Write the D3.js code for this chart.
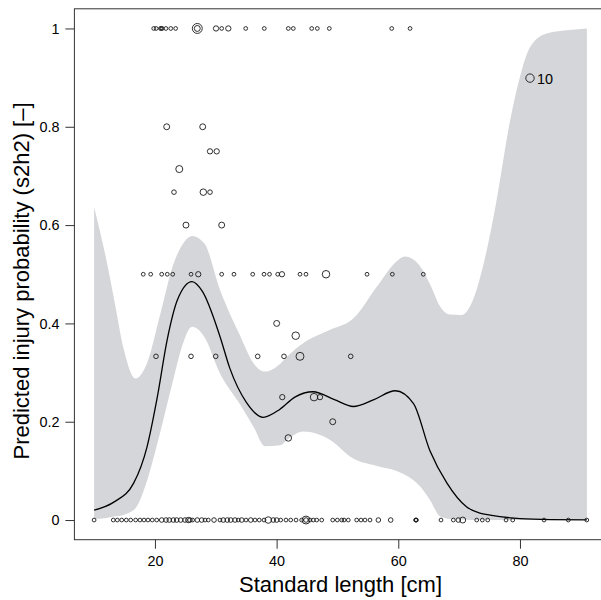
<!DOCTYPE html>
<html>
<head>
<meta charset="utf-8">
<script src="https://cdn.jsdelivr.net/npm/d3@7"></script>
<style>
  body { margin: 0; background: #fff; }
  text { font-family: "Liberation Sans", Arial, Helvetica, sans-serif; }
</style>
</head>
<body>
<script>
// 基本设置
const width = 601;
const height = 600;
const plotLeft = 74.4;
const plotRight = 606.6;
const plotTop = 8.8;
const plotBottom = 539.7;

// ---- data ----
const xTicks = [20, 40, 60, 80];
const yTicks = [0, 0.2, 0.4, 0.6, 0.8, 1];
const yTickLabels = ['0', '0.2', '0.4', '0.6', '0.8', '1'];

// fitted curve
const fitLen = [10, 13.3, 16.5, 18.7, 20.4, 22, 23.7, 26.1, 27.8, 30.7, 32.3, 35, 37.8, 40.5, 43, 46, 49.5, 52.6, 56, 59.5, 62.5, 65.2, 68, 71.2, 73.4, 75.1, 80, 85, 91];
const fitProb = [0.020, 0.037, 0.075, 0.149, 0.251, 0.366, 0.448, 0.485, 0.465, 0.373, 0.309, 0.240, 0.209, 0.225, 0.250, 0.261, 0.245, 0.231, 0.245, 0.263, 0.237, 0.141, 0.075, 0.027, 0.014, 0.010, 0.003, 0.001, 0.0005];

// confidence band
const bandLen = [10, 12, 13.3, 14.9, 16.8, 18.7, 20.9, 23.1, 24.5, 26.1, 28.1, 30.7, 34, 36.2, 38.1, 40.6, 41.7, 44.4, 48.8, 52.6, 56.5, 59.7, 61.1, 63.6, 65.2, 66.9, 68.5, 70.4, 72, 74, 76, 78.4, 80, 81.7, 84.4, 88.2, 91];
const bandHi = [0.637, 0.53, 0.448, 0.346, 0.288, 0.319, 0.42, 0.523, 0.56, 0.578, 0.563, 0.468, 0.375, 0.319, 0.302, 0.318, 0.332, 0.36, 0.387, 0.41, 0.475, 0.526, 0.536, 0.516, 0.48, 0.434, 0.418, 0.417, 0.44, 0.52, 0.64, 0.814, 0.902, 0.963, 0.99, 0.997, 1.0];
const bandLo = [0.002, 0.004, 0.007, 0.011, 0.024, 0.08, 0.18, 0.29, 0.355, 0.393, 0.373, 0.298, 0.235, 0.19, 0.15, 0.152, 0.163, 0.18, 0.163, 0.125, 0.11, 0.1, 0.092, 0.068, 0.041, 0.007, 0.002, 0.001, 0, 0, 0, 0, 0, 0, 0, 0, 0];

// observations, injury = 0
const lenAt0 = [10.0, 13.15, 13.81, 14.53, 15.29, 16.01, 16.83, 17.54, 18.2, 18.86,
  19.56, 20.29, 21.11, 21.82, 22.36, 23.02, 23.57, 24.23, 24.94, 25.48,
  25.76, 26.2, 26.96, 27.68, 28.23, 28.77, 29.71, 30.69, 31.23, 31.89,
  32.45, 33.16, 33.7, 34.26, 34.97, 35.74, 36.45, 37.15, 37.93, 38.63,
  39.45, 40.01, 40.67, 41.54, 42.31, 43.19, 44.12, 44.83, 44.83, 45.49,
  46.03, 46.59, 47.41, 49.22, 49.98, 50.7, 51.08, 51.78, 53.16, 53.87,
  54.53, 55.35, 56.72, 58.75, 62.85, 62.91, 62.97, 67.02, 69.05, 69.87,
  70.59, 72.89, 73.81, 74.7, 77.71, 78.81, 83.96, 87.95, 90.98];
const nAt0 = [2, 2, 2, 2, 2, 2, 2, 2, 2, 2,
  2, 2, 3, 3, 3, 3, 3, 3, 3, 4,
  3, 2, 3, 3, 2, 2, 3, 2, 3, 3,
  3, 3, 2, 3, 2, 3, 2, 2, 2, 6,
  3, 3, 2, 2, 2, 2, 2, 9, 3, 2,
  2, 2, 2, 2, 2, 2, 2, 2, 2, 2,
  2, 2, 3, 3, 2, 2, 2, 2, 2, 3,
  5, 2, 2, 2, 2, 2, 2, 2, 2];

// observations, injury = 1
const lenAt1 = [19.8, 20.2, 20.9, 21.05, 21.2, 21.8, 22.6, 23.4, 26.96, 26.96, 30.04, 30.97, 32.06, 34.92, 37.97, 41.92, 42.74, 45.77, 46.69, 48.66, 58.92, 61.93];
const nAt1 = [2, 2, 2, 2, 2, 2, 2, 2, 14, 5, 4, 2, 4, 2, 2, 2, 2, 2, 2, 2, 2, 2];

// observations with partial injury proportion
const midLen = [21.93, 27.85, 29.05, 30.15, 24.0, 23.13, 27.95, 29.05, 25.1, 30.97,
  18.08, 19.3, 21.11, 22.03, 22.92, 25.93, 27.12, 30.97, 32.99, 36.07,
  37.93, 38.83, 40.18, 40.88, 43.84, 44.83, 48.12, 54.86, 59.02, 64.11,
  40.01, 43.14, 20.17, 25.93, 29.99, 36.89, 41.21, 43.84, 52.18,
  40.93, 46.15, 47.13, 49.22, 41.92];
const midProb = [0.8, 0.8, 0.75, 0.75, 0.714, 0.667, 0.667, 0.667, 0.6, 0.6,
  0.5, 0.5, 0.5, 0.5, 0.5, 0.5, 0.5, 0.5, 0.5, 0.5,
  0.5, 0.5, 0.5, 0.5, 0.5, 0.5, 0.5, 0.5, 0.5, 0.5,
  0.4, 0.375, 0.333, 0.333, 0.333, 0.333, 0.333, 0.333, 0.333,
  0.25, 0.25, 0.25, 0.2, 0.167];
const midN = [5, 5, 4, 4, 7, 3, 6, 3, 5, 5,
  2, 2, 2, 2, 2, 2, 4, 2, 2, 2,
  2, 2, 2, 4, 2, 2, 8, 2, 2, 2,
  5, 8, 3, 3, 3, 3, 3, 9, 3,
  4, 8, 4, 5, 6];

const legendLen = 81.65;
const legendProb = 0.899;
const legendN = 10;

// ---- chart ----
const svg = d3.select('body')
  .append('svg')
  .attr('width', width)
  .attr('height', height);

const x = d3.scaleLinear().domain([6.76, 94.24]).range([plotLeft, plotRight]);
const y = d3.scaleLinear().domain([-0.04, 1.04]).range([plotBottom, plotTop]);
const r = d3.scaleSqrt().domain([0, 10]).range([0, 4.2]);

const band = bandLen.map((d, i) => ({ len: d, lo: bandLo[i], hi: bandHi[i] }));
const fit = fitLen.map((d, i) => ({ len: d, p: fitProb[i] }));

svg.append('path')
  .datum(band)
  .attr('fill', '#d5d6d9')
  .attr('d', d3.area()
    .x(d => x(d.len))
    .y0(d => y(d.lo))
    .y1(d => y(d.hi))
    .curve(d3.curveMonotoneX));

svg.append('path')
  .datum(fit)
  .attr('fill', 'none')
  .attr('stroke', '#000')
  .attr('stroke-width', 1.3)
  .attr('d', d3.line()
    .x(d => x(d.len))
    .y(d => y(d.p))
    .curve(d3.curveMonotoneX));

const obs = []
  .concat(lenAt0.map((d, i) => ({ len: d, p: 0, n: nAt0[i] })))
  .concat(lenAt1.map((d, i) => ({ len: d, p: 1, n: nAt1[i] })))
  .concat(midLen.map((d, i) => ({ len: d, p: midProb[i], n: midN[i] })));

svg.append('g')
  .selectAll('circle')
  .data(obs)
  .enter()
  .append('circle')
  .attr('cx', d => x(d.len))
  .attr('cy', d => y(d.p))
  .attr('r', d => r(d.n))
  .attr('fill', 'none')
  .attr('stroke', '#1a1a1a')
  .attr('stroke-width', 0.9);

// size legend
svg.append('circle')
  .attr('cx', x(legendLen))
  .attr('cy', y(legendProb))
  .attr('r', r(legendN))
  .attr('fill', 'none')
  .attr('stroke', '#1a1a1a')
  .attr('stroke-width', 0.9);
svg.append('text')
  .attr('x', x(legendLen) + 7)
  .attr('y', y(legendProb) + 5.5)
  .attr('font-size', 14.4)
  .text(legendN);

// frame
svg.append('rect')
  .attr('x', plotLeft)
  .attr('y', plotTop)
  .attr('width', plotRight - plotLeft)
  .attr('height', plotBottom - plotTop)
  .attr('fill', 'none')
  .attr('stroke', '#333')
  .attr('stroke-width', 1);

// axes
const yAxis = svg.append('g')
  .attr('transform', `translate(${plotLeft},0)`)
  .call(d3.axisLeft(y).tickValues(yTicks).tickSize(9).tickPadding(6)
    .tickFormat((d, i) => yTickLabels[i]));
const xAxis = svg.append('g')
  .attr('transform', `translate(0,${plotBottom})`)
  .call(d3.axisBottom(x).tickValues(xTicks).tickSize(9).tickPadding(7));

[yAxis, xAxis].forEach(g => {
  g.select('.domain').remove();
  g.selectAll('line').attr('stroke', '#333');
  g.selectAll('text')
    .attr('font-size', 14.4)
    .attr('fill', '#000')
    .style('font-family', '"Liberation Sans", Arial, sans-serif');
});

// titles
svg.append('text')
  .attr('x', (plotLeft + plotRight) / 2)
  .attr('y', 592)
  .attr('text-anchor', 'middle')
  .attr('font-size', 22)
  .text('Standard length [cm]');

svg.append('text')
  .attr('transform', `translate(29,281) rotate(-90)`)
  .attr('text-anchor', 'middle')
  .attr('font-size', 22)
  .text('Predicted injury probability (s2h2) [–]');
</script>
</body>
</html>
